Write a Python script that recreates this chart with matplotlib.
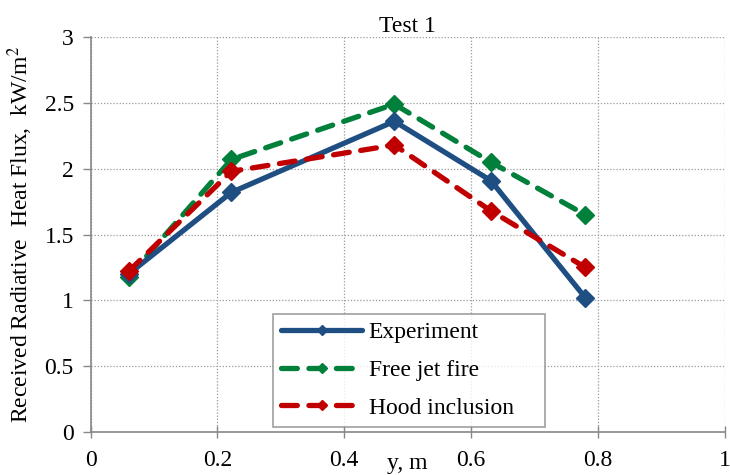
import matplotlib
matplotlib.use("Agg")
import matplotlib.pyplot as plt

plt.rcParams['font.family'] = ['Liberation Serif', 'DejaVu Serif']
plt.rcParams['mathtext.fontset'] = 'stix'

y_pos = [0.06, 0.222, 0.479, 0.631, 0.780]
experiment = [1.20, 1.82, 2.36, 1.91, 1.02]
free_jet = [1.18, 2.07, 2.49, 2.05, 1.65]
hood = [1.22, 1.98, 2.18, 1.68, 1.25]

x_ticks = [0, 0.2, 0.4, 0.6, 0.8, 1]
x_tick_labels = ['0', '0.2', '0.4', '0.6', '0.8', '1']
y_ticks = [0, 0.5, 1, 1.5, 2, 2.5, 3]
y_tick_labels = ['0', '0.5', '1', '1.5', '2', '2.5', '3']

fig = plt.figure(figsize=(7.3, 4.75), dpi=100)
ax = fig.add_axes([0.124, 0.0905, 0.869, 0.8315])

blue = '#1F4E82'
green = '#00803A'
red = '#C00000'

ax.plot(y_pos, experiment, color=blue, lw=3.8, marker='D', ms=9.5,
        solid_capstyle='round', label='Experiment', zorder=3)
ax.plot(y_pos, free_jet, color=green, lw=3.8, marker='D', ms=9.5,
        dashes=(3.0, 2.2), dash_capstyle='round', label='Free jet fire', zorder=2)
ax.plot(y_pos, hood, color=red, lw=3.8, marker='D', ms=9.5,
        dashes=(3.0, 2.2), dash_capstyle='round', label='Hood inclusion', zorder=4)

ax.set_xlim(0, 1)
ax.set_ylim(0, 3)
ax.set_xticks(x_ticks)
ax.set_xticklabels(x_tick_labels)
ax.set_yticks(y_ticks)
ax.set_yticklabels(y_tick_labels)
ax.tick_params(axis='both', labelsize=17, colors='#888888', labelcolor='black',
               width=1)
ax.tick_params(axis='x', direction='inout', length=8, pad=9)
ax.tick_params(axis='y', direction='out', length=6, pad=6)

ax.grid(True, color='#9a9a9a', linestyle=(0, (1, 1.5)), linewidth=0.9)
ax.set_axisbelow(True)
for side in ('top', 'right'):
    ax.spines[side].set_visible(False)
for side in ('left', 'bottom'):
    ax.spines[side].set_color('#888888')
    ax.spines[side].set_linewidth(1.2)

ax.set_title('Test 1', fontsize=17, pad=3)
ax.set_xlabel('y, m', fontsize=17, labelpad=-13)
ax.set_ylabel('Received Radiative  Heat Flux,  kW/m$^2$', fontsize=17, labelpad=7)

leg = ax.legend(loc='lower left', bbox_to_anchor=(0.288, 0.013, 0.428, 0.29),
                mode='expand', borderaxespad=0, fontsize=17, frameon=True,
                fancybox=False, edgecolor='#888888', handlelength=3.4,
                borderpad=0.35, labelspacing=0.68, handletextpad=0.3,
                markerscale=0.55)
leg.get_frame().set_linewidth(1.2)

fig.savefig('out.png', dpi=100)
